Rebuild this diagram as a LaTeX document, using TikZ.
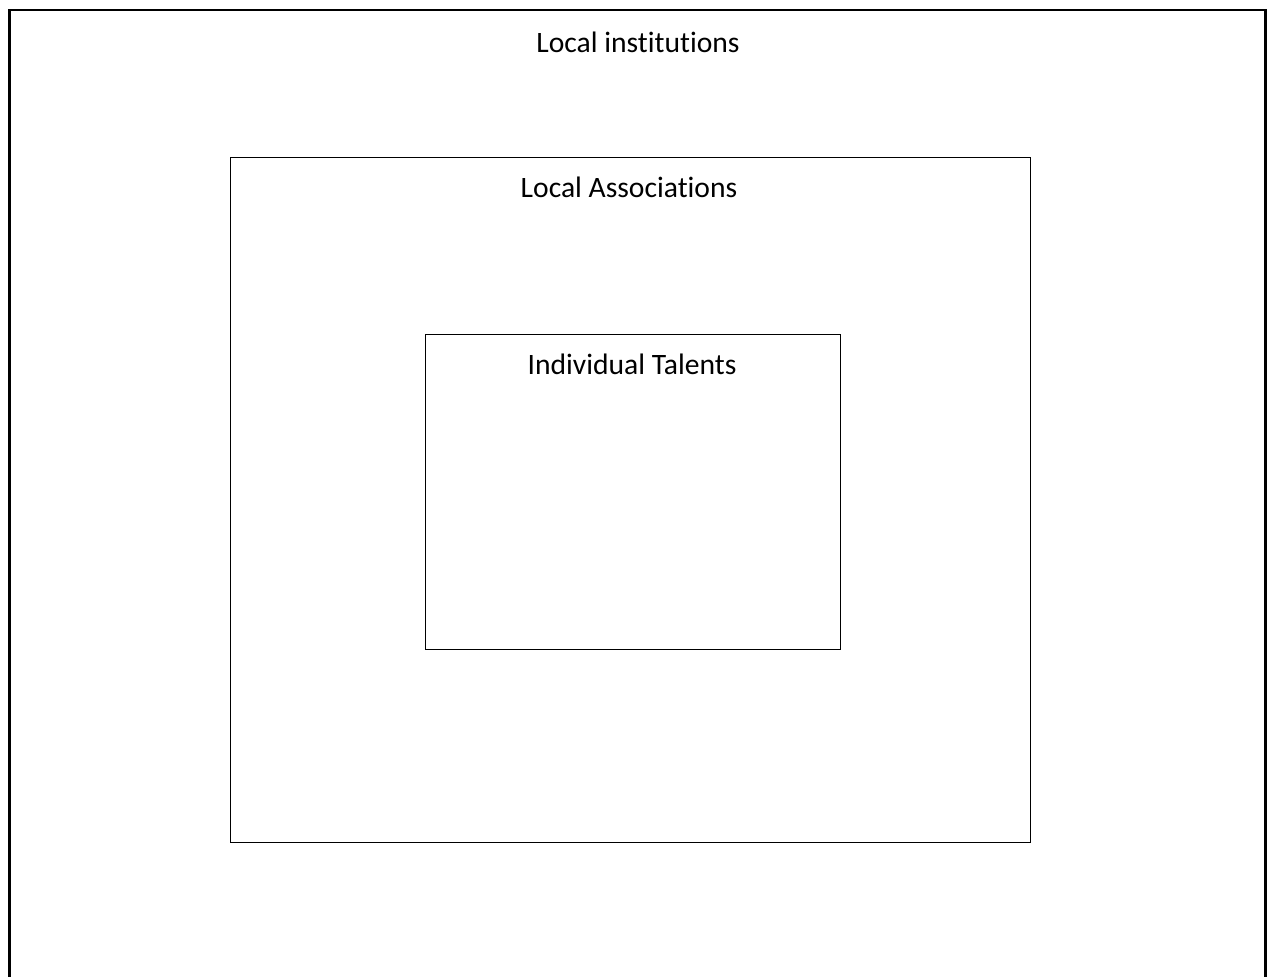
\documentclass[tikz,border=0pt]{standalone}
\usepackage{fontspec}
\setmainfont[Ligatures={NoCommon}]{Carlito}
\begin{document}
\begin{tikzpicture}[x=0.75pt,y=-0.75pt,
  lbl/.style={font=\fontsize{22.2}{26}\selectfont, inner sep=0pt, anchor=center},
  outerbox/.style={draw=black, line width=1.6pt},
  box/.style={draw=black, line width=0.8pt, inner sep=0pt}]
\useasboundingbox (0,0) rectangle (1268,976);
\path[outerbox] (9.5,1000) -- (9.5,10) -- (1265.5,10) -- (1265.5,1000);
\node[box, minimum width=600pt, minimum height=513.75pt] (assoc) at (630.5,500) {};
\node[box, minimum width=311.25pt, minimum height=236.25pt] (talent) at (633,492) {};
\node[lbl] (t1) at (638,42) {Local institutions};
\node[lbl] (t2) at (629,187) {Local Associations};
\node[lbl] (t3) at (632,364) {Individual Talents};
\end{tikzpicture}
\end{document}
